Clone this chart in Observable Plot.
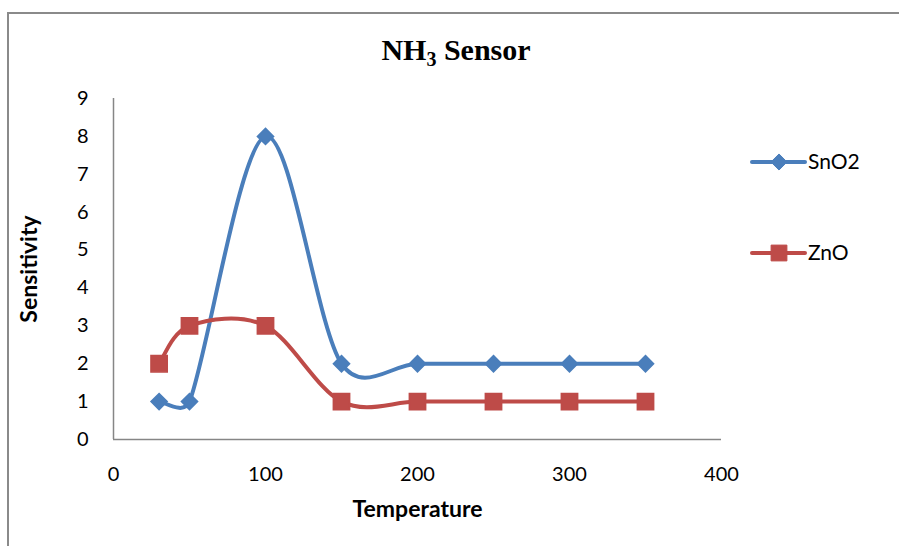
<!DOCTYPE html>
<html>
<head>
<meta charset="utf-8">
<script src="https://cdn.jsdelivr.net/npm/d3@7"></script>
<script src="https://cdn.jsdelivr.net/npm/@observablehq/plot@0.6"></script>
<style>
  html, body { margin: 0; padding: 0; background: #fff; }
  #wrap { position: relative; width: 899px; height: 546px; overflow: hidden; font-family: Lato, "Open Sans", sans-serif; }
  #frame { position: absolute; left: 7px; top: 12px; width: 1000px; height: 1000px; border-top: 2px solid #8a8a8a; border-left: 2px solid #8a8a8a; box-sizing: border-box; }
  #title { position: absolute; left: 0; width: 912px; top: 33px; text-align: center; font-family: "Liberation Serif", "Times New Roman", serif; font-weight: bold; font-size: 30px; color: #000; }
  #title sub { font-size: 20px; vertical-align: -6px; line-height: 0; }
  #chart { position: absolute; left: 0; top: 0; }
  #legend { position: absolute; left: 750px; top: 0; }
</style>
</head>
<body>
<div id="wrap">
  <div id="frame"></div>
  <div id="chart"></div>
  <div id="title">NH<sub>3</sub> Sensor</div>
  <div id="legend"></div>
</div>
<script>
const temperature = [30, 50, 100, 150, 200, 250, 300, 350];
const sno2 = [1, 1, 8, 2, 2, 2, 2, 2];
const zno = [2, 3, 3, 1, 1, 1, 1, 1];
const seriesNames = ["SnO2", "ZnO"];
const seriesColors = ["#4A7EBB", "#BE4B48"];
const seriesSymbols = ["diamond2", "square"];
const xTicks = [0, 100, 200, 300, 400];
const yTicks = [0, 1, 2, 3, 4, 5, 6, 7, 8, 9];

const seriesValues = [sno2, zno];
const data = [];
seriesNames.forEach((name, si) => {
  temperature.forEach((t, i) => data.push({series: name, temperature: t, value: seriesValues[si][i]}));
});

// Spreadsheet-style smoothed line (Bezier with clamped tangent arms), as a d3 curve factory
function SmoothCurve(context) { this._context = context; }
SmoothCurve.prototype = {
  areaStart() { this._line = 0; },
  areaEnd() { this._line = NaN; },
  lineStart() { this._pts = []; },
  point(x, y) { this._pts.push([+x, +y]); },
  lineEnd() {
    const p = this._pts, n = p.length, c = this._context;
    if (n) {
      if (this._line) c.lineTo(p[0][0], p[0][1]); else c.moveTo(p[0][0], p[0][1]);
      for (let i = 0; i < n - 1; i++) {
        const p0 = p[Math.max(i - 1, 0)], p1 = p[i], p2 = p[i + 1], p3 = p[Math.min(i + 2, n - 1)];
        const d12 = Math.hypot(p2[0] - p1[0], p2[1] - p1[1]);
        const d02 = Math.hypot(p2[0] - p0[0], p2[1] - p0[1]);
        const d13 = Math.hypot(p3[0] - p1[0], p3[1] - p1[1]);
        let f0 = 1 / 6, f1 = 1 / 6;
        if (d02 / 6 > d12 / 2) f0 = d12 / d02 / 2;
        if (d13 / 6 > d12 / 2) f1 = d12 / d13 / 2;
        c.bezierCurveTo(
          p1[0] + f0 * (p2[0] - p0[0]), p1[1] + f0 * (p2[1] - p0[1]),
          p2[0] - f1 * (p3[0] - p1[0]), p2[1] - f1 * (p3[1] - p1[1]),
          p2[0], p2[1]);
      }
    }
    this._line = 1 - this._line;
  }
};
const smoothCurve = (context) => new SmoothCurve(context);

const fontFamily = "Lato, 'Open Sans', sans-serif";
const marks = [
  Plot.axisY({ticks: yTicks, tickSize: 0, tickPadding: 25, fontSize: 20, label: null, fill: "#000"}),
  Plot.axisX({ticks: xTicks, tickSize: 0, tickPadding: 27, fontSize: 20, label: null, fill: "#000"}),
  Plot.ruleX([0], {stroke: "#868686", strokeWidth: 1.5}),
  Plot.ruleY([0], {stroke: "#868686", strokeWidth: 1.5}),
  Plot.text(["Temperature"], {frameAnchor: "bottom", dy: 77, fontSize: 23, fontWeight: "bold", fill: "#000"}),
  Plot.text(["Sensitivity"], {frameAnchor: "left", dx: -84, rotate: -90, textAnchor: "middle", fontSize: 23, fontWeight: "bold", fill: "#000"})
];
seriesNames.forEach((name, si) => {
  const d = data.filter(r => r.series === name);
  marks.push(Plot.line(d, {x: "temperature", y: "value", stroke: seriesColors[si], strokeWidth: 4, curve: smoothCurve}));
  marks.push(Plot.dot(d, {x: "temperature", y: "value", fill: seriesColors[si], stroke: seriesColors[si], symbol: seriesSymbols[si], r: si === 0 ? 7.3 : 9.2}));
});

const chart = Plot.plot({
  width: 899,
  height: 546,
  marginLeft: 113,
  marginRight: 178,
  marginTop: 98,
  marginBottom: 107,
  style: {fontFamily, background: "transparent", overflow: "visible"},
  x: {domain: [0, 400]},
  y: {domain: [0, 9]},
  marks
});
document.getElementById("chart").appendChild(chart);

// legend
const lsvg = d3.create("svg").attr("width", 140).attr("height", 300).style("font-family", fontFamily);
const legendY = [162, 253];
seriesNames.forEach((name, si) => {
  const g = lsvg.append("g").attr("transform", `translate(0,${legendY[si]})`);
  g.append("line").attr("x1", 2).attr("x2", 55).attr("stroke", seriesColors[si]).attr("stroke-width", 4).attr("stroke-linecap", "round");
  const sym = si === 0 ? d3.symbolDiamond2 : d3.symbolSquare;
  const size = si === 0 ? 165 : 250;
  g.append("path").attr("d", d3.symbol(sym, size)()).attr("transform", "translate(29,0)").attr("fill", seriesColors[si]).attr("stroke", seriesColors[si]);
  g.append("text").attr("x", 58).attr("dy", "0.35em").attr("font-size", 21).attr("fill", "#000").text(name);
});
document.getElementById("legend").appendChild(lsvg.node());
</script>
</body>
</html>
